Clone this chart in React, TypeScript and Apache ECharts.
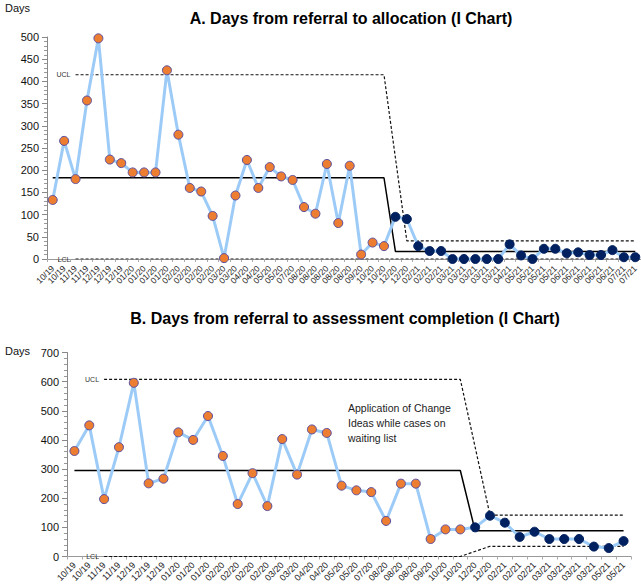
import React, { useEffect, useRef } from "react";
import * as echarts from "echarts";

const catsA = [
  "10/19","10/19","11/19","11/19","12/19","12/19","12/19","01/20","01/20","01/20","01/20",
  "02/20","02/20","02/20","02/20","03/20","03/20","04/20","04/20","05/20","05/20","07/20",
  "08/20","08/20","08/20","08/20","08/20","09/20","10/20","10/20","12/20","12/20",
  "02/21","02/21","02/21","03/21","03/21","03/21","03/21","03/21","04/21",
  "05/21","05/21","05/21","05/21","06/21","06/21","06/21","06/21","06/21","07/21","07/21",
];
const allocation = [
  133, 266, 180, 357, 497, 224, 216, 195, 195, 195,
  425, 280, 160, 152, 97, 2, 143, 223, 160, 207,
  186, 178, 117, 102, 214, 81, 210, 10, 37, 29,
  95, 90, 29, 18, 18, 0, 0, 0, 0, 0,
  33, 8, 0, 23, 23, 13, 15, 9, 9, 20,
  4, 4,
];
const splitA = 30; // first index of the post-change phase
const clA = [183, 17];
const uclA = [415, 41];
const lclA = [0, 0];

const catsB = [
  "10/19","10/19","11/19","11/19","12/19","12/19","12/19","01/20","01/20","01/20",
  "02/20","02/20","02/20","02/20","03/20","03/20","04/20","04/20","05/20","05/20",
  "07/20","08/20","08/20","08/20","09/20","10/20","10/20","12/20","12/20",
  "02/21","02/21","02/21","03/21","03/21","03/21","03/21","05/21","05/21",
];
const assessment = [
  362, 450, 197, 375, 596, 251, 267, 426, 400, 482,
  345, 180, 286, 173, 403, 281, 436, 424, 243, 227,
  221, 122, 250, 250, 60, 93, 93,
  100, 140, 116, 67, 85, 60, 60, 60, 34, 29, 53,
];
const splitB = 27;
const clB = [295, 88];
const uclB = [608, 142];
const lclB = [0, 35];

const ORANGE = "#ED7D31";
const NAVY = "#002060";
const LINE_BLUE = "#9DCBF7";
const FONT = "Liberation Sans, Arial, sans-serif";

function limitData(vals: number[], split: number, limits: number[], labelText: string, gapBefore: boolean) {
  return vals.map((_, i) => {
    if (i < 2) return "-";
    let v: any;
    if (i < split) v = limits[0];
    else if (gapBefore && i === split) v = null;
    else v = limits[1];
    if (i === 2) {
      return {
        value: v,
        symbol: "circle",
        symbolSize: 0.1,
        label: {
          show: true,
          position: "left",
          distance: 5,
          formatter: labelText,
          fontSize: 7,
          color: "#333",
          fontFamily: FONT,
        },
      };
    }
    return v;
  });
}

function markers(vals: number[], split: number) {
  return vals.map((v, i) => ({
    value: v,
    itemStyle: {
      color: i < split ? ORANGE : NAVY,
      borderColor: i < split ? "#5A4FA0" : NAVY,
      borderWidth: 1,
    },
  }));
}

function xAxis(cats: string[], gridIndex: number, fontSize: number, margin: number) {
  return {
    type: "category",
    gridIndex,
    data: cats,
    boundaryGap: true,
    axisLine: { show: true, lineStyle: { color: "#999", width: 1 } },
    axisTick: { show: true, length: 3, lineStyle: { color: "#aaa" } },
    axisLabel: {
      interval: 0,
      rotate: 45,
      fontSize,
      margin,
      color: "#222",
      fontFamily: FONT,
    },
    splitLine: { show: false },
  };
}

function yAxis(gridIndex: number, max: number, interval: number) {
  return {
    type: "value",
    gridIndex,
    min: 0,
    max,
    interval,
    axisLine: { show: true, lineStyle: { color: "#888", width: 1 } },
    axisTick: { show: true, length: 5, lineStyle: { color: "#888" } },
    minorTick: { show: true, splitNumber: 5, length: 3, lineStyle: { color: "#999" } },
    splitLine: { show: false },
    minorSplitLine: { show: false },
    axisLabel: { fontSize: 11, color: "#111", fontFamily: FONT, margin: 8 },
  };
}

function chartSeries(
  idx: number,
  vals: number[],
  split: number,
  cl: number[],
  ucl: number[],
  lcl: number[],
  uclGap: boolean,
  lclGap: boolean
) {
  return [
    {
      type: "line",
      name: "CL" + idx,
      xAxisIndex: idx,
      yAxisIndex: idx,
      data: vals.map((_, i) => (i < split ? cl[0] : cl[1])),
      symbol: "none",
      lineStyle: { color: "#000", width: 1.5 },
      z: 2,
      silent: true,
    },
    {
      type: "line",
      name: "UCL" + idx,
      xAxisIndex: idx,
      yAxisIndex: idx,
      data: limitData(vals, split, ucl, "UCL", uclGap),
      symbol: "none",
      showAllSymbol: true,
      connectNulls: true,
      lineStyle: { color: "#111", width: 1.2, type: [3, 2] },
      z: 2,
      silent: true,
    },
    {
      type: "line",
      name: "LCL" + idx,
      xAxisIndex: idx,
      yAxisIndex: idx,
      data: limitData(vals, split, lcl, "LCL", lclGap),
      symbol: "none",
      showAllSymbol: true,
      connectNulls: true,
      lineStyle: { color: "#111", width: 1.2, type: [3, 2] },
      z: 2,
      silent: true,
    },
    {
      type: "line",
      name: "Days" + idx,
      xAxisIndex: idx,
      yAxisIndex: idx,
      data: markers(vals, split),
      symbol: "circle",
      symbolSize: 9,
      showAllSymbol: true,
      lineStyle: { color: LINE_BLUE, width: 3 },
      z: 3,
    },
  ];
}

export default function App() {
  const ref = useRef<HTMLDivElement>(null);
  useEffect(() => {
    if (!ref.current) return;
    const chart = echarts.init(ref.current, null, { renderer: "svg" });
    const option: any = {
      animation: false,
      backgroundColor: "#fff",
      grid: [
        { left: 47, top: 37, width: 595, height: 222 },
        { left: 67, top: 352.5, width: 564, height: 204 },
      ],
      xAxis: [xAxis(catsA, 0, 8.5, 8), xAxis(catsB, 1, 9, 7)],
      yAxis: [yAxis(0, 500, 50), yAxis(1, 700, 100)],
      series: [
        ...chartSeries(0, allocation, splitA, clA, uclA, lclA, true, false),
        ...chartSeries(1, assessment, splitB, clB, uclB, lclB, true, true),
      ],
      graphic: [
        {
          type: "text",
          x: 351,
          y: 18,
          style: {
            text: "A. Days from referral to allocation (I Chart)",
            font: "bold 16px " + FONT,
            fill: "#000",
            align: "center",
            verticalAlign: "middle",
          },
        },
        {
          type: "text",
          x: 345,
          y: 318,
          style: {
            text: "B. Days from referral to assessment completion (I Chart)",
            font: "bold 16px " + FONT,
            fill: "#000",
            align: "center",
            verticalAlign: "middle",
          },
        },
        {
          type: "text",
          x: 5,
          y: 8,
          style: { text: "Days", font: "11px " + FONT, fill: "#111", verticalAlign: "middle" },
        },
        {
          type: "text",
          x: 5,
          y: 351,
          style: { text: "Days", font: "11px " + FONT, fill: "#111", verticalAlign: "middle" },
        },
        {
          type: "text",
          x: 348,
          y: 400,
          style: {
            text: "Application of Change\nIdeas while cases on\nwaiting list",
            font: "10.5px " + FONT,
            lineHeight: 15,
            fill: "#222",
          },
        },
      ],
    };
    chart.setOption(option);
    return () => chart.dispose();
  }, []);
  return (
    <div
      ref={ref}
      style={{ position: "fixed", left: 0, top: 0, width: 641, height: 587, background: "#fff" }}
    />
  );
}
